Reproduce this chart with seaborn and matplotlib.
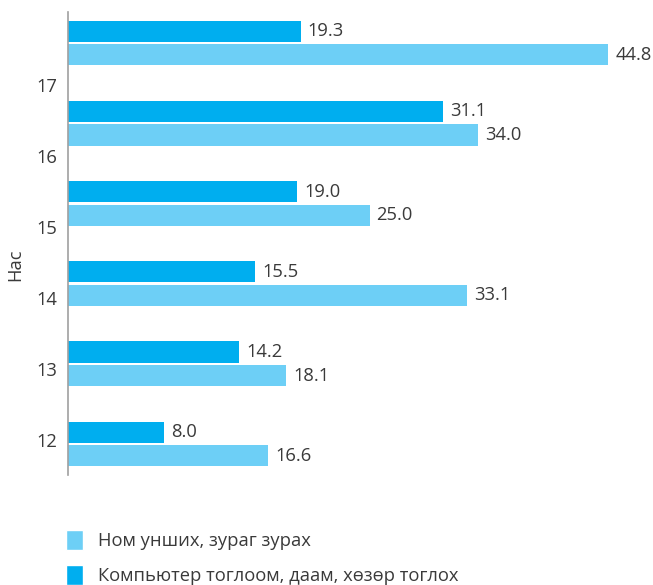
import numpy as np
import pandas as pd
import matplotlib
matplotlib.use("Agg")
import matplotlib.pyplot as plt
from matplotlib.patches import Patch
import seaborn as sns

# Data
ages = ["17", "16", "15", "14", "13", "12"]
reading = [44.8, 34.0, 25.0, 33.1, 18.1, 16.6]
computer = [19.3, 31.1, 19.0, 15.5, 14.2, 8.0]
label_reading = "Ном унших, зураг зурах"
label_computer = "Компьютер тоглоом, даам, хөзөр тоглох"

col_reading = "#6DCFF6"
col_computer = "#00AEEF"
text_col = "#3a3a3a"
fs = 13.2

df = pd.DataFrame({
    "age": ages * 2,
    "value": computer + reading,
    "activity": [label_computer] * len(ages) + [label_reading] * len(ages),
})

sns.set_style("white")
plt.rcParams["font.family"] = ["Open Sans", "DejaVu Sans"]
plt.rcParams["font.size"] = fs

fig = plt.figure(figsize=(6.53, 5.85), dpi=100)
ax = fig.add_axes([68 / 653, 1 - 475 / 585, 585 / 653, 463 / 585])

sns.barplot(
    data=df, y="age", x="value", hue="activity", order=ages,
    hue_order=[label_computer, label_reading],
    palette=[col_computer, col_reading], orient="h", saturation=1,
    width=0.586, gap=0.1, legend=False, ax=ax, linewidth=0,
)

for cont in ax.containers:
    ax.bar_label(cont, fmt="%.1f", padding=5, color=text_col, fontsize=fs)

ax.set_xlim(0, 48.5)
ax.set_ylim(5.386, -0.386)
ax.set_xticks([])
# tick labels sit a little off the group centres in the original
ax.set_yticks(np.linspace(0.524, 4.95, len(ages)))
ax.set_yticklabels(ages, color=text_col)
ax.tick_params(axis="y", length=0, pad=8)
ax.set_xlabel("")
ax.set_ylabel("")
fig.text(15 / 653, 1 - 265 / 585, "Нас", rotation=90, ha="center", va="center",
         color=text_col, fontsize=fs)

for s in ["top", "right", "bottom"]:
    ax.spines[s].set_visible(False)
ax.spines["left"].set_color("#a0a0a0")
ax.spines["left"].set_linewidth(1.2)

handles = [Patch(facecolor=col_reading, label=label_reading),
           Patch(facecolor=col_computer, label=label_computer)]
fig.legend(handles=handles, loc="upper left", bbox_to_anchor=(50 / 653, 1 - 514 / 585),
           frameon=False, handlelength=0.92, handleheight=1.25, handletextpad=0.8,
           labelspacing=0.82, labelcolor=text_col, fontsize=fs)

fig.savefig("out.png", dpi=100)
